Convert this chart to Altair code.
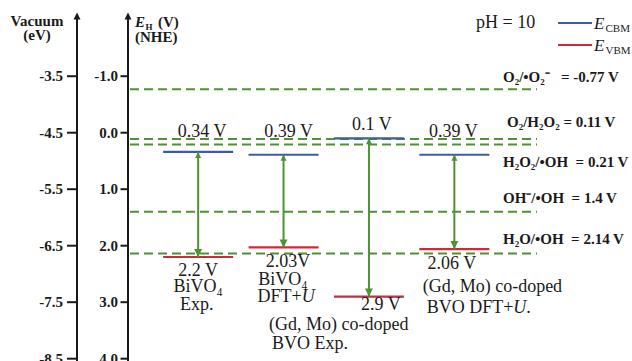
import altair as alt
import pandas as pd

# ---- band edges of the four samples (V vs NHE) ----------------------------
samples = ["BiVO4 Exp.", "BiVO4 DFT+U", "(Gd, Mo) co-doped BVO Exp.",
           "(Gd, Mo) co-doped BVO DFT+U."]
cbm = [0.34, 0.39, 0.1, 0.39]
vbm = [2.2, 2.03, 2.9, 2.06]
cbm_text = ["0.34 V", "0.39 V", "0.1 V", "0.39 V"]
vbm_text = ["2.2 V", "2.03V", "2.9 V", "2.06 V"]

# ---- redox potentials at pH 10 (V vs NHE) ---------------------------------
redox_couple = ["O₂/•O₂⁻", "O₂/H₂O₂", "H₂O₂/•OH", "OH⁻/•OH", "H₂O/•OH"]
redox_value = [-0.77, 0.11, 0.21, 1.4, 2.14]
redox_text = ["= -0.77 V", "= 0.11 V", "= 0.21 V", "= 1.4 V", "= 2.14 V"]

# ---- the two energy axes ---------------------------------------------------
vacuum_ticks = [-3.5, -4.5, -5.5, -6.5, -7.5, -8.5]   # eV vs vacuum
nhe_ticks = [-1.0, 0.0, 1.0, 2.0, 3.0, 4.0]           # V vs NHE

# ---- layout / style ----------------------------------------------------------
W, H = 632, 361
SERIF = "Liberation Serif"
BLUE, RED, GREEN, INK = "#3c5ba8", "#d2283a", "#4e9232", "#1a1a1a"

Y_DOM = [-2.349, 4.041]
X_DOM = [-2.3203, 5.0802]
PX_PER_V = H / (Y_DOM[1] - Y_DOM[0])
PX_PER_SLOT = W / (X_DOM[1] - X_DOM[0])
ys = alt.Scale(domain=Y_DOM, reverse=True, nice=False, zero=False)
xs = alt.Scale(domain=X_DOM, nice=False, zero=False)
HALF = 0.41  # half length of a level, in sample slots


def X(f):
    return alt.X(f, type="quantitative", scale=xs, axis=None)


def Y(f):
    return alt.Y(f, type="quantitative", scale=ys, axis=None)


def PX(f):
    return alt.X(f, type="quantitative", scale=None)


bands = pd.DataFrame({"sample": samples, "slot": list(range(len(samples))),
                      "cbm": cbm, "vbm": vbm,
                      "cbm_text": cbm_text, "vbm_text": vbm_text})
bands["left"] = bands["slot"] - HALF
bands["right"] = bands["slot"] + HALF

# label offsets in pixels (dx from level centre, dy from level);
# conduction-band values sit above the upper dashed levels
cbm_dx, cbm_dy = [4, 5, 3, -1], [-15.2, -18, -8.3, -18]
vbm_dx, vbm_dy = [0, 4.4, 12, -2.4], [19, 19.3, 13, 19.7]
bands["cbm_lx"] = bands["slot"] + pd.Series(cbm_dx) / PX_PER_SLOT
bands["cbm_ly"] = bands["cbm"] + pd.Series(cbm_dy) / PX_PER_V
bands["vbm_lx"] = bands["slot"] + pd.Series(vbm_dx) / PX_PER_SLOT
bands["vbm_ly"] = bands["vbm"] + pd.Series(vbm_dy) / PX_PER_V

# sample names under each valence band: (slot, text, dx, dy, italic, align)
name_pieces = [
    (0, "BiVO₄", 0, 35, False, "center"),
    (0, "Exp.", -1.5, 53, False, "center"),
    (1, "BiVO₄", -0.6, 38, False, "center"),
    (1, "DFT+", -26.1, 55, False, "left"),
    (1, "U", 18.1, 55, True, "left"),
    (2, "(Gd, Mo) co-doped", -100, 33, False, "left"),
    (2, "BVO Exp.", -97, 52, False, "left"),
    (3, "(Gd, Mo) co-doped", -31.7, 43, False, "left"),
    (3, "BVO DFT+", -27.7, 64, False, "left"),
    (3, "U", 59, 64, True, "left"),
    (3, ".", 72, 64, False, "left"),
]
names = pd.DataFrame(name_pieces, columns=["slot", "text", "dx", "dy", "italic", "align"])
names["lx"] = names["slot"] + names["dx"] / PX_PER_SLOT
names["ly"] = [vbm[s] for s in names["slot"]] + names["dy"] / PX_PER_V

redox_gap = [3, 1, 2, 2, 2]
redox_lx = [503, 507, 503, 503, 503]
redox_dy = [-7, -12, 22, -9, -10]
redox = pd.DataFrame({"value": redox_value})
redox["label"] = [c + "\u00a0" * g + t for c, g, t in zip(redox_couple, redox_gap, redox_text)]
redox["lx"] = redox_lx
redox["ly"] = redox["value"] + pd.Series(redox_dy) / PX_PER_V

ticks = pd.DataFrame({
    "nhe": nhe_ticks,
    "vac_pos": [-4.5 - v for v in vacuum_ticks],
    "vac_lbl": [f"{v:.1f}" for v in vacuum_ticks],
    "nhe_lbl": [f"{v:.1f}" for v in nhe_ticks],
})

one = pd.DataFrame({"a": [0]})
UP_HEAD = "M0,0 L0.5,1 L-0.5,1 Z"
DOWN_HEAD = "M0,0 L0.5,-1 L-0.5,-1 Z"

layers = []

# redox potentials as dashed levels
layers.append(alt.Chart(redox).mark_rule(color=GREEN, strokeWidth=2, strokeDash=[9, 5])
              .encode(x=alt.value(130), x2=alt.value(537), y=Y("value")))

# conduction and valence band levels
layers.append(alt.Chart(bands).mark_rule(color=BLUE, strokeWidth=2.2)
              .encode(x=X("left"), x2=alt.X2("right"), y=Y("cbm")))
layers.append(alt.Chart(bands).mark_rule(color=RED, strokeWidth=2.2)
              .encode(x=X("left"), x2=alt.X2("right"), y=Y("vbm")))

# band-gap arrows
layers.append(alt.Chart(bands).mark_rule(color=GREEN, strokeWidth=2)
              .encode(x=X("slot"), y=Y("cbm"), y2=alt.Y2("vbm")))
layers.append(alt.Chart(bands).mark_point(shape=DOWN_HEAD, size=256, filled=True,
                                          color=GREEN, opacity=1, strokeWidth=0)
              .encode(x=X("slot"), y=Y("vbm")))
layers.append(alt.Chart(bands).mark_point(shape=UP_HEAD, size=144, filled=True,
                                          color=GREEN, opacity=1, strokeWidth=0)
              .encode(x=X("slot"), y=Y("cbm")))

# level values
layers.append(alt.Chart(bands).mark_text(font=SERIF, fontSize=18, color=INK, align="center",
                                         baseline="alphabetic", clip=True)
              .encode(x=X("cbm_lx"), y=Y("cbm_ly"), text="cbm_text"))
layers.append(alt.Chart(bands).mark_text(font=SERIF, fontSize=18, color=INK, align="center",
                                         baseline="alphabetic", clip=True)
              .encode(x=X("vbm_lx"), y=Y("vbm_ly"), text="vbm_text"))

# sample names
for (italic, align), grp in names.groupby(["italic", "align"]):
    layers.append(alt.Chart(grp).mark_text(font=SERIF, fontSize=18, color=INK, align=align,
                                           fontStyle="italic" if italic else "normal",
                                           baseline="alphabetic", clip=True)
                  .encode(x=X("lx"), y=Y("ly"), text="text"))

# redox labels
layers.append(alt.Chart(redox).mark_text(font=SERIF, fontSize=15, fontWeight="bold", color=INK,
                                         align="left", baseline="alphabetic", clip=True)
              .encode(x=PX("lx"), y=Y("ly"), text="label"))

# vacuum and NHE axes
for ax_x, tick_from, lbl_x, pos, lbl in [(77, 67, 63, "vac_pos", "vac_lbl"),
                                         (128, 120.5, 118, "nhe", "nhe_lbl")]:
    layers.append(alt.Chart(one).mark_rule(color=INK, strokeWidth=2)
                  .encode(x=alt.value(ax_x), y=alt.value(16), y2=alt.value(H)))
    layers.append(alt.Chart(one).mark_point(shape=UP_HEAD, size=196, filled=True,
                                            color=INK, opacity=1, strokeWidth=0)
                  .encode(x=alt.value(ax_x), y=alt.value(12.5)))
    layers.append(alt.Chart(ticks).mark_rule(color=INK, strokeWidth=2)
                  .encode(x=alt.value(tick_from), x2=alt.value(ax_x + 1), y=Y(pos)))
    layers.append(alt.Chart(ticks).mark_text(font=SERIF, fontSize=15, fontWeight="bold",
                                             color=INK, align="right", baseline="middle",
                                             clip=True)
                  .encode(x=alt.value(lbl_x), y=Y(pos), text=lbl))


def note(text, x, y, size=15, bold=True, italic=False, align="left"):
    return (alt.Chart(one)
            .mark_text(text=text, font=SERIF, fontSize=size, color=INK, align=align,
                       fontWeight="bold" if bold else "normal",
                       fontStyle="italic" if italic else "normal",
                       baseline="alphabetic", clip=True)
            .encode(x=alt.value(x), y=alt.value(y)))


layers += [
    note("Vacuum", 37, 26, align="center"),
    note("(eV)", 37, 40, align="center"),
    note("E", 135, 27, italic=True),
    note("H", 145.5, 30, size=9),
    note("(V)", 158, 27),
    note("(NHE)", 135, 42),
    note("pH = 10", 476, 28, size=18, bold=False),
    note("E", 594, 28.5, size=17, bold=False, italic=True),
    note("CBM", 605.5, 31.5, size=11, bold=False),
    note("E", 594, 50.5, size=17, bold=False, italic=True),
    note("VBM", 605.5, 53.5, size=11, bold=False),
]

# legend swatches
layers.append(alt.Chart(one).mark_rule(color=BLUE, strokeWidth=2)
              .encode(x=alt.value(558), x2=alt.value(592), y=alt.value(23)))
layers.append(alt.Chart(one).mark_rule(color=RED, strokeWidth=2)
              .encode(x=alt.value(558), x2=alt.value(592), y=alt.value(45)))

chart = (alt.layer(*layers)
         .properties(width=W, height=H, padding=0, autosize=alt.AutoSizeParams(type="none"),
                     background="white")
         .configure_view(stroke=None))

chart.save("out.html", embed_options={"renderer": "svg", "actions": False})
